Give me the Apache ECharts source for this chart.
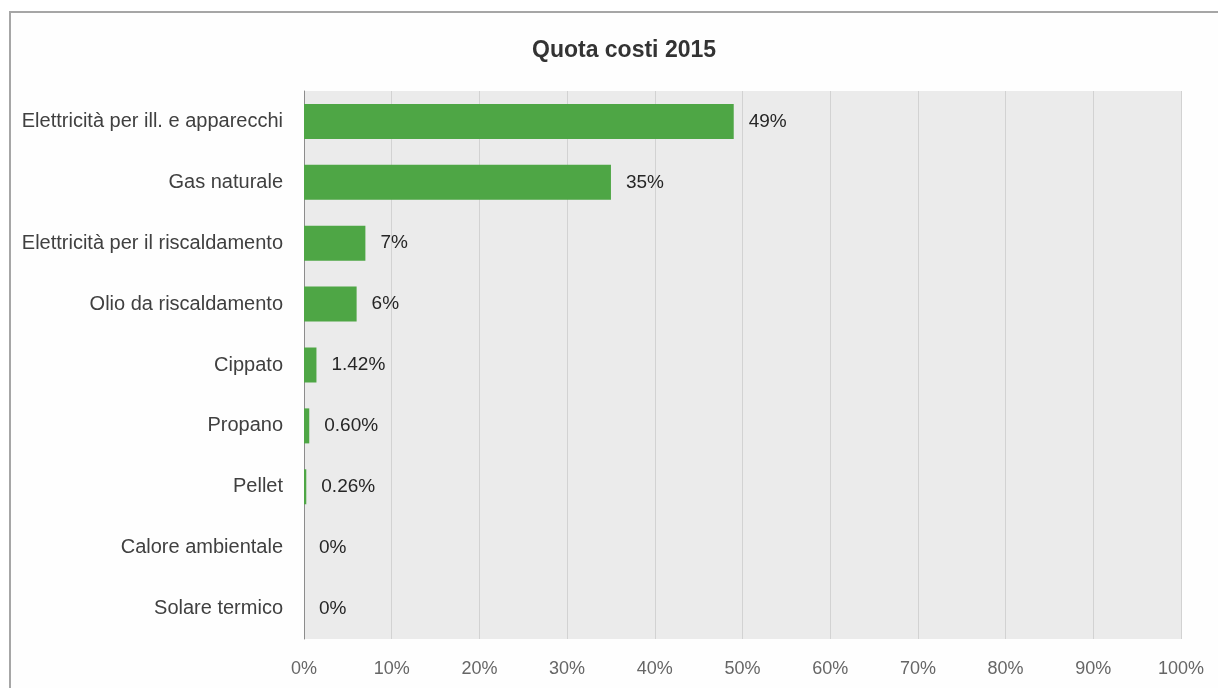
<!DOCTYPE html>
<html>
<head>
<meta charset="utf-8">
<title>Quota costi 2015</title>
<script src="https://cdn.jsdelivr.net/npm/echarts@6/dist/echarts.min.js"></script>
<style>
  html, body { margin: 0; padding: 0; background: #ffffff; }
  #chart { width: 1218px; height: 688px; }
</style>
</head>
<body>
<div id="chart"></div>
<script>
// Energy sources and their share of total costs (percent)
const categories = [
  'Elettricità per ill. e apparecchi',
  'Gas naturale',
  'Elettricità per il riscaldamento',
  'Olio da riscaldamento',
  'Cippato',
  'Propano',
  'Pellet',
  'Calore ambientale',
  'Solare termico'
];
const shares = [49, 35, 7, 6, 1.42, 0.60, 0.26, 0, 0];
const xTicks = [0, 10, 20, 30, 40, 50, 60, 70, 80, 90, 100];

const FONT = '"Liberation Sans Narrow", "Arial Narrow", "Liberation Sans", Arial, sans-serif';

function shareLabel(v) {
  if (v === 0) return '0%';
  if (v >= 5) return v.toFixed(0) + '%';
  return v.toFixed(2) + '%';
}

const chart = echarts.init(document.getElementById('chart'), null, { renderer: 'canvas' });

chart.setOption({
  backgroundColor: '#ffffff',
  animation: false,
  graphic: [{
    type: 'rect',
    z: -10,
    shape: { x: 10, y: 12, width: 1240, height: 720 },
    style: { fill: '#fefefe', stroke: '#a6a6a6', lineWidth: 2 }
  }],
  title: {
    text: 'Quota costi 2015',
    left: 527,
    top: 34,
    textStyle: { fontFamily: FONT, fontSize: 23, fontWeight: 'bold', color: '#333333' }
  },
  grid: {
    left: 304, right: 37, top: 91, bottom: 49,
    show: true, backgroundColor: '#ebebeb', borderWidth: 0,
    containLabel: false
  },
  xAxis: {
    type: 'value',
    min: xTicks[0],
    max: xTicks[xTicks.length - 1],
    interval: 10,
    axisLine: { show: false },
    axisTick: { show: false },
    splitLine: { show: true, lineStyle: { color: '#d2d2d2', width: 1 } },
    axisLabel: {
      formatter: v => v + '%',
      fontFamily: FONT, fontSize: 18, color: '#666666', margin: 21
    }
  },
  yAxis: {
    type: 'category',
    data: categories,
    inverse: true,
    axisLine: { show: true, lineStyle: { color: '#8c8c8c', width: 1 } },
    axisTick: { show: false },
    axisLabel: { fontFamily: FONT, fontSize: 20, color: '#404040', margin: 21 }
  },
  series: [{
    type: 'bar',
    data: shares,
    barWidth: 35,
    itemStyle: { color: '#4ea645' },
    label: {
      show: true,
      position: 'right',
      distance: 15,
      formatter: p => shareLabel(p.value),
      fontFamily: FONT, fontSize: 19, color: '#262626'
    }
  }]
});
</script>
</body>
</html>
